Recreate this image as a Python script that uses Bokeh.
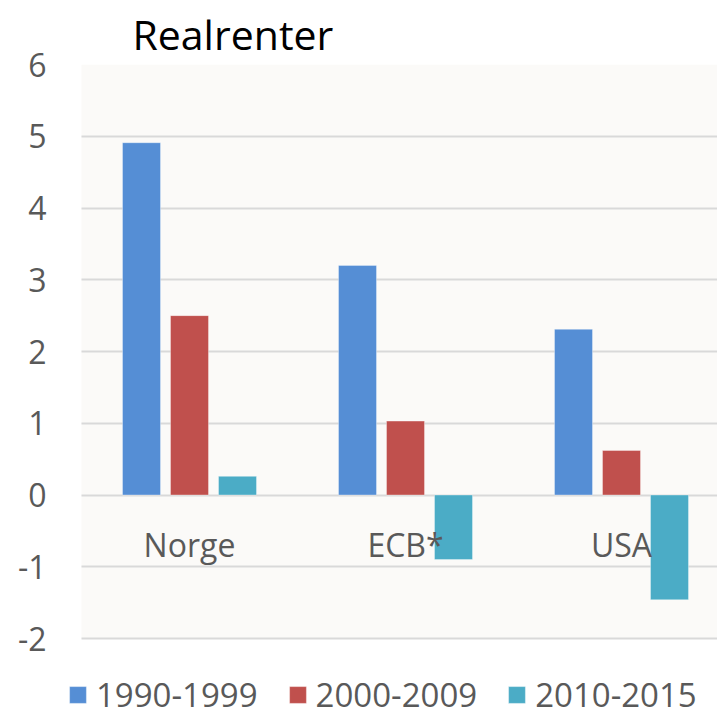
from bokeh.plotting import figure
from bokeh.models import (ColumnDataSource, Range1d, FixedTicker, Legend, LegendItem,
                          NumeralTickFormatter, BoxAnnotation)
from bokeh.transform import dodge
from bokeh.core.properties import value
from bokeh.embed import file_html
from bokeh.resources import INLINE

# ---- data ----
title_text = "Realrenter"
categories = ["Norge", "ECB*", "USA"]
series_names = ["1990-1999", "2000-2009", "2010-2015"]
v_1990_1999 = [4.91, 3.20, 2.31]
v_2000_2009 = [2.50, 1.03, 0.62]
v_2010_2015 = [0.26, -0.90, -1.46]
y_ticks = [-2, -1, 0, 1, 2, 3, 4, 5, 6]
y_min, y_max = -2, 6
colors = ["#558ED5", "#C0504D", "#4BACC6"]

FONT = "Open Sans"
GREY = "#595959"

W, H = 717, 717
FL, FT = 60, 64            # frame (extended so the legend is not clipped)
PX_X, PX_Y = 216, 71.75    # pixels per category / per unit
PLOT_L = 81                # left edge of the plotting area
FW, FH = W - FL, H - FT
x0 = -0.5 - (PLOT_L - FL) / PX_X
x1 = x0 + FW / PX_X
y1 = y_max
y0 = y_max - FH / PX_Y

p = figure(width=W, height=H, output_backend="svg", toolbar_location=None,
           x_range=Range1d(x0, x1), y_range=Range1d(y0, y1),
           min_border_left=FL, min_border_top=FT, min_border_right=0,
           min_border_bottom=0)
p.background_fill_color = "white"
p.border_fill_color = "white"
p.outline_line_color = None

# plot-area background
p.add_layout(BoxAnnotation(left=-0.5, bottom=y_min, top=y_max, fill_color="#FBFAF8",
                           fill_alpha=1, line_color=None, level="image"))

idx = list(range(len(categories)))
src = ColumnDataSource(dict(x=idx, cat=categories,
                            a=v_1990_1999, b=v_2000_2009, c=v_2010_2015))

step = 48 / 216
bw = 38 / 216
renderers = []
for k, (col, color) in enumerate(zip(["a", "b", "c"], colors)):
    r = p.vbar(x=dodge("x", (k - 1) * step), top=col, bottom=0, width=bw, source=src,
               fill_color=color, line_color="white", line_alpha=0.35, line_width=1)
    renderers.append(r)

# category labels inside plot below zero line
p.text(x="x", y=-0.69, text="cat", source=src, text_align="center",
       text_baseline="alphabetic", text_font=value(FONT), text_font_size="32px",
       text_color=GREY)

# axes
p.xaxis.visible = False
p.xgrid.visible = False
p.yaxis.ticker = FixedTicker(ticks=y_ticks)
p.yaxis.axis_line_color = None
p.yaxis.major_tick_line_color = None
p.yaxis.minor_tick_line_color = None
p.yaxis.major_tick_out = 0
p.yaxis.major_tick_in = 0
p.yaxis.major_label_standoff = 14
p.yaxis.major_label_text_font = FONT
p.yaxis.major_label_text_font_size = "32px"
p.yaxis.major_label_text_color = GREY
p.yaxis.formatter = NumeralTickFormatter(format="0")
p.ygrid.ticker = FixedTicker(ticks=y_ticks)
p.ygrid.grid_line_color = "#D9D9D9"
p.ygrid.grid_line_width = 2
p.ygrid.cross_bounds = (-0.5, x1)

# title
p.title.text = title_text
p.title.text_font = FONT
p.title.text_font_size = "41px"
p.title.text_font_style = "normal"
p.title.text_color = "black"
p.title.align = "left"
p.title.offset = 51 + (PLOT_L - FL)
p.title.standoff = 6
p.title.vertical_align = "bottom"

legend = Legend(items=[LegendItem(label=n, renderers=[r]) for n, r in zip(series_names, renderers)],
                orientation="horizontal", location=(67 - FL, 0),
                background_fill_alpha=0, border_line_alpha=0, padding=0, margin=0,
                glyph_width=21, glyph_height=21, label_standoff=8, spacing=29,
                label_text_font=FONT, label_text_font_size="33px", label_text_color=GREY)
p.add_layout(legend, "center")

open("out.html", "w").write(file_html(p, INLINE))
